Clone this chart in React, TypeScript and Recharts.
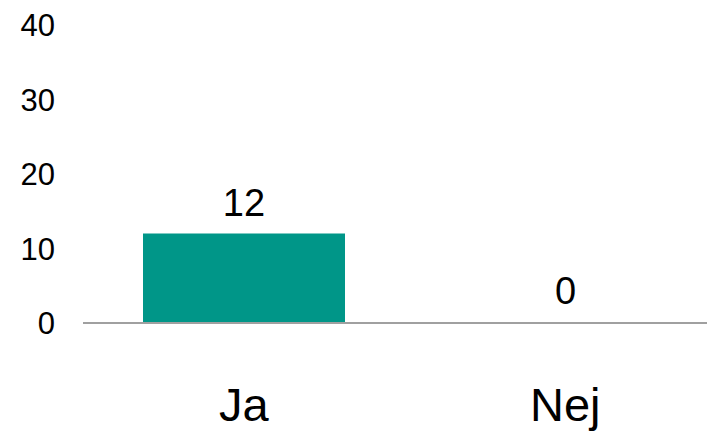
import { BarChart, Bar, XAxis, YAxis, LabelList, Cell } from "recharts"

const categories = ["Ja", "Nej"]
const counts = [12, 0]
const yTicks = [0, 10, 20, 30, 40]

const data = categories.map((name, i) => ({ name, value: counts[i] }))

const font = "'Liberation Sans', Arial, sans-serif"

export default function App() {
  return (
    <div style={{ position: "absolute", left: 0, top: 0, width: 707, height: 432, overflow: "hidden", background: "#fff" }}>
      <BarChart
        width={726}
        height={432}
        data={data}
        margin={{ top: 25, right: 0, left: 0, bottom: 0 }}
        style={{ fontFamily: font }}
      >
        <XAxis
          dataKey="name"
          height={109}
          tickLine={false}
          tickSize={0}
          tickMargin={65}
          axisLine={{ stroke: "#a0a0a0", strokeWidth: 2 }}
          tick={{ fill: "#000", fontSize: 47, fontFamily: font }}
        />
        <YAxis
          width={83}
          domain={[0, 40]}
          ticks={yTicks}
          axisLine={false}
          tickLine={false}
          tickSize={0}
          tickMargin={28}
          tick={{ fill: "#000", fontSize: 31, fontFamily: font }}
        />
        <Bar dataKey="value" fill="#009688" barSize={202} minPointSize={1} isAnimationActive={false}>
          {data.map((d, i) => (
            <Cell key={`cell-${i}`} fill={d.value > 0 ? "#009688" : "transparent"} />
          ))}
          <LabelList
            dataKey="value"
            position="top"
            offset={18}
            fill="#000"
            fontSize={38}
            fontFamily={font}
            formatter={(v: number) => `${v}`}
          />
        </Bar>
      </BarChart>
    </div>
  )
}
